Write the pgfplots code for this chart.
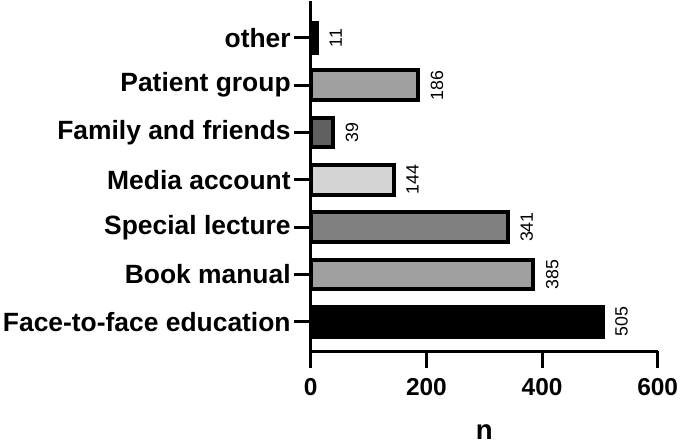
\documentclass[border=0pt]{standalone}
\usepackage{pgfplots}
\pgfplotsset{compat=1.18}
\usepackage{fontspec}
\setmainfont{Liberation Sans}
\definecolor{cBlack}{HTML}{000000}
\definecolor{cMid}{HTML}{A0A0A0}
\definecolor{cDark}{HTML}{606060}
\definecolor{cLight}{HTML}{D4D4D4}
\definecolor{cSpec}{HTML}{808080}
\begin{document}
\begin{tikzpicture}
\begin{axis}[
  scale only axis,
  width=176pt, height=177.5pt,
  xmin=0, xmax=600, ymin=-0.625, ymax=6.77,
  axis x line=bottom, axis y line=left,
  axis line style={-, line width=1.5pt},
  xtick={0,200,400,600},
  ytick={0,1,2,3,4,5,6},
  yticklabels={Face-to-face education,Book manual,Special lecture,Media account,Family and friends,Patient group,other},
  tick align=outside,
  major tick length=8.5pt,
  tick style={line width=1.5pt, black},
  /pgf/number format/assume math mode=true,
  yticklabel style={font=\fontsize{13.4}{15}\selectfont\bfseries, inner xsep=1.5pt},
  xticklabel style={font=\fontsize{12.4}{14}\selectfont\bfseries, inner ysep=0pt, inner xsep=3.5pt, yshift=-5pt},
  xlabel={n},
  xlabel style={font=\fontsize{14}{16}\selectfont\bfseries, inner sep=2.5pt, yshift=-12pt},
  xbar, bar width=0.625, bar shift=0pt,
  nodes near coords,
  every node near coord/.append style={rotate=90, anchor=north, font=\fontsize{9}{11}\selectfont, yshift=-2pt},
  clip=false,
]
\addplot[fill=cBlack, draw=black, line width=2pt] coordinates {(505,0)};
\addplot[fill=cMid, draw=black, line width=2pt] coordinates {(385,1)};
\addplot[fill=cSpec, draw=black, line width=2pt] coordinates {(341,2)};
\addplot[fill=cLight, draw=black, line width=2pt] coordinates {(144,3)};
\addplot[fill=cDark, draw=black, line width=2pt] coordinates {(39,4)};
\addplot[fill=cMid, draw=black, line width=2pt] coordinates {(186,5)};
\addplot[fill=cBlack, draw=black, line width=2pt] coordinates {(11,6)};
\end{axis}
\end{tikzpicture}
\end{document}
